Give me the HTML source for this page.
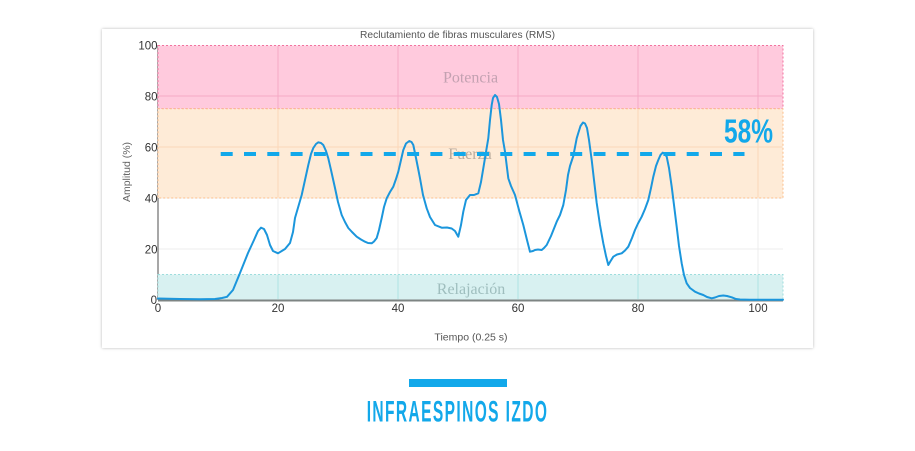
<!DOCTYPE html>
<html>
<head>
<meta charset="utf-8">
<style>
  html,body{margin:0;padding:0;background:#fff;}
  body{width:915px;height:451px;overflow:hidden;position:relative;font-family:"Liberation Sans",sans-serif;}
  .card{position:absolute;left:102px;top:29px;width:711px;height:319px;background:#fff;box-shadow:0 0 3px rgba(0,0,0,0.28);}
  svg{position:absolute;left:0;top:0;}
</style>
</head>
<body>
<div class="card"></div>
<svg width="915" height="451" viewBox="0 0 915 451" xmlns="http://www.w3.org/2000/svg">
  <!-- chart title -->
  <text x="360" y="38" font-family="Liberation Sans, sans-serif" font-size="10" fill="#555" textLength="195" lengthAdjust="spacingAndGlyphs">Reclutamiento de fibras musculares (RMS)</text>

  <!-- grid under bands -->
  <g stroke="#ececec" stroke-width="1">
    <line x1="278" y1="45.5" x2="278" y2="300"/>
    <line x1="398" y1="45.5" x2="398" y2="300"/>
    <line x1="518" y1="45.5" x2="518" y2="300"/>
    <line x1="638" y1="45.5" x2="638" y2="300"/>
    <line x1="758" y1="45.5" x2="758" y2="300"/>
    <line x1="158" y1="249" x2="783" y2="249"/>
    <line x1="158" y1="198" x2="783" y2="198"/>
    <line x1="158" y1="147" x2="783" y2="147"/>
    <line x1="158" y1="96" x2="783" y2="96"/>
  </g>

  <!-- left axis -->
  <line x1="158" y1="45" x2="158" y2="300" stroke="#8a8a8a" stroke-width="1.5"/>

  <!-- bands -->
  <rect x="158" y="45.5" width="625" height="63.3" fill="#ffcadd" stroke="#f2739f" stroke-width="1" stroke-dasharray="2 2"/>
  <rect x="158" y="108.8" width="625" height="89.2" fill="#feebd7" stroke="#fbbf8c" stroke-width="1" stroke-dasharray="2 2"/>
  <rect x="158" y="274.5" width="625" height="25.5" fill="#d8f1f1" stroke="#9edddd" stroke-width="1" stroke-dasharray="2 2"/>

  <!-- grid over bands (tinted) -->
  <g stroke="#f6a9c5" stroke-width="1">
    <line x1="278" y1="46" x2="278" y2="108"/>
    <line x1="398" y1="46" x2="398" y2="108"/>
    <line x1="518" y1="46" x2="518" y2="108"/>
    <line x1="638" y1="46" x2="638" y2="108"/>
    <line x1="758" y1="46" x2="758" y2="108"/>
    <line x1="159" y1="96" x2="782" y2="96"/>
  </g>
  <g stroke="#fbd7b8" stroke-width="1">
    <line x1="278" y1="109" x2="278" y2="197.5"/>
    <line x1="398" y1="109" x2="398" y2="197.5"/>
    <line x1="518" y1="109" x2="518" y2="197.5"/>
    <line x1="638" y1="109" x2="638" y2="197.5"/>
    <line x1="758" y1="109" x2="758" y2="197.5"/>
    <line x1="159" y1="147" x2="782" y2="147"/>
  </g>
  <g stroke="#aee3e3" stroke-width="1">
    <line x1="278" y1="275" x2="278" y2="299"/>
    <line x1="398" y1="275" x2="398" y2="299"/>
    <line x1="518" y1="275" x2="518" y2="299"/>
    <line x1="638" y1="275" x2="638" y2="299"/>
    <line x1="758" y1="275" x2="758" y2="299"/>
  </g>

  <!-- band labels -->
  <text x="470.5" y="82.3" text-anchor="middle" font-family="Liberation Serif, serif" font-size="16" fill="#c3a1b1">Potencia</text>
  <text x="470" y="159" text-anchor="middle" font-family="Liberation Serif, serif" font-size="16" fill="#b9aa9c">Fuerza</text>
  <text x="471" y="294" text-anchor="middle" font-family="Liberation Serif, serif" font-size="16" fill="#9fbebe">Relajación</text>

  <!-- bottom axis -->
  <line x1="158" y1="300.5" x2="783" y2="300.5" stroke="#7e8483" stroke-width="2"/>

  <!-- y ticks -->
  <g font-family="Liberation Sans, sans-serif" font-size="11.5" fill="#333" text-anchor="end">
    <text x="157.5" y="49.5">100</text>
    <text x="157.5" y="100.5">80</text>
    <text x="157.5" y="151.5">60</text>
    <text x="157.5" y="202.5">40</text>
    <text x="157.5" y="253.5">20</text>
    <text x="157" y="304">0</text>
  </g>
  <!-- x ticks -->
  <g font-family="Liberation Sans, sans-serif" font-size="11.5" fill="#333" text-anchor="middle">
    <text x="158" y="312">0</text>
    <text x="278" y="312">20</text>
    <text x="398" y="312">40</text>
    <text x="518" y="312">60</text>
    <text x="638" y="312">80</text>
    <text x="758" y="312">100</text>
  </g>
  <!-- axis titles -->
  <text x="471" y="340.7" text-anchor="middle" font-family="Liberation Sans, sans-serif" font-size="10.5" fill="#555">Tiempo (0.25 s)</text>
  <text transform="translate(130,172) rotate(-90)" text-anchor="middle" font-family="Liberation Sans, sans-serif" font-size="10.5" fill="#666">Amplitud (%)</text>

  <!-- curve -->
  <polyline fill="none" stroke="#1b96dc" stroke-width="2" stroke-linejoin="round" stroke-linecap="round" points="
158,298.5 180,299 200,299.2 215,299 222,298 227,296.8 233,290 240,273 248,253 254,240 258,231 261,227.7 264,229 267,235 270,245 273,251 278,253.3 285,249 290,243 293,232 295,218 301.7,195 305,180 308.3,165 311,154 313.3,148 316,144 318.3,142.3 321,143 323.3,145 326,151 328.3,158.3 331,170 335,188 338,202 341.7,215 345,222 348.3,228 352,232 356.7,236.7 361,239.5 365,241.7 368,243 371.7,243.3 374,241.5 376.7,238 379,230 381.7,218 384,207 386.7,198.3 390,192 393.3,186.7 396,179 398.3,171.7 401,160 403.3,150 406,143.5 409.3,141 411.5,142 413.3,145 416,158 418,168 420,178.3 423,195 426.7,208.3 430,217 435,225 441.7,227.7 447,227.5 451.7,228.5 455,231 458.3,236.7 461,225 463.3,211.7 466,200 470,195 474,195 478.3,193.3 481,182 483.3,168.3 486,152 488.3,138.3 490,120 491.7,105 493,98 495,95 497,97 499,104 501,120 503,140 505,151.7 508.3,178.3 511,186 515,195 519,210 523.3,225 527,240 530,251.7 533,251 535,250 538,249.5 541.7,250 544,248 546.7,245 551,236 556.7,221.7 560,215 563.3,205 566,190 568,175 570,166 573.3,156 576.7,138.3 578.3,133 580.5,126 583,122.5 585,123.5 587,128 589,140 591.7,160 594,180 596.7,203 600,225 603.3,243.3 606,256 608.3,265 610,262 613.3,256.7 617,254.5 621.7,253.3 625,250.5 628.3,246.7 632,238 635,230 638,223.5 641.7,216.7 645,209 648.3,200 651,188 653.3,176.7 656,166 658.3,160 660.5,155 662.7,152.7 664.5,153.5 666.7,156.7 669,168 671.7,186.7 674,205 676.7,226.7 679,246 681.7,263.3 684,275 686.7,283.3 690,288 695,291.7 699,293.5 703.3,295 707,297 711.7,298.3 715,297.5 719,296 723.3,295.5 727,296 731.7,297.3 736,299 740,299.5 750,299.8 783,299.8"/>

  <!-- dashed average line -->
  <line x1="220.7" y1="154" x2="744.5" y2="154" stroke="#12a8ea" stroke-width="4" stroke-dasharray="12 11.3"/>

  <!-- 58% -->
  <text x="724" y="142.3" font-family="Liberation Sans, sans-serif" font-weight="bold" font-size="33.5" fill="#12a8ea" textLength="49" lengthAdjust="spacingAndGlyphs">58%</text>

  <!-- bottom bar + label -->
  <rect x="409" y="379" width="98" height="8" fill="#12a8ea"/>
  <text transform="translate(366.7,421.7) scale(0.53,1)" x="0" y="0" font-family="Liberation Sans, sans-serif" font-weight="bold" font-size="29.3" fill="#12a8ea" textLength="340" lengthAdjust="spacing">INFRAESPINOS IZDO</text>
</svg>
</body>
</html>
